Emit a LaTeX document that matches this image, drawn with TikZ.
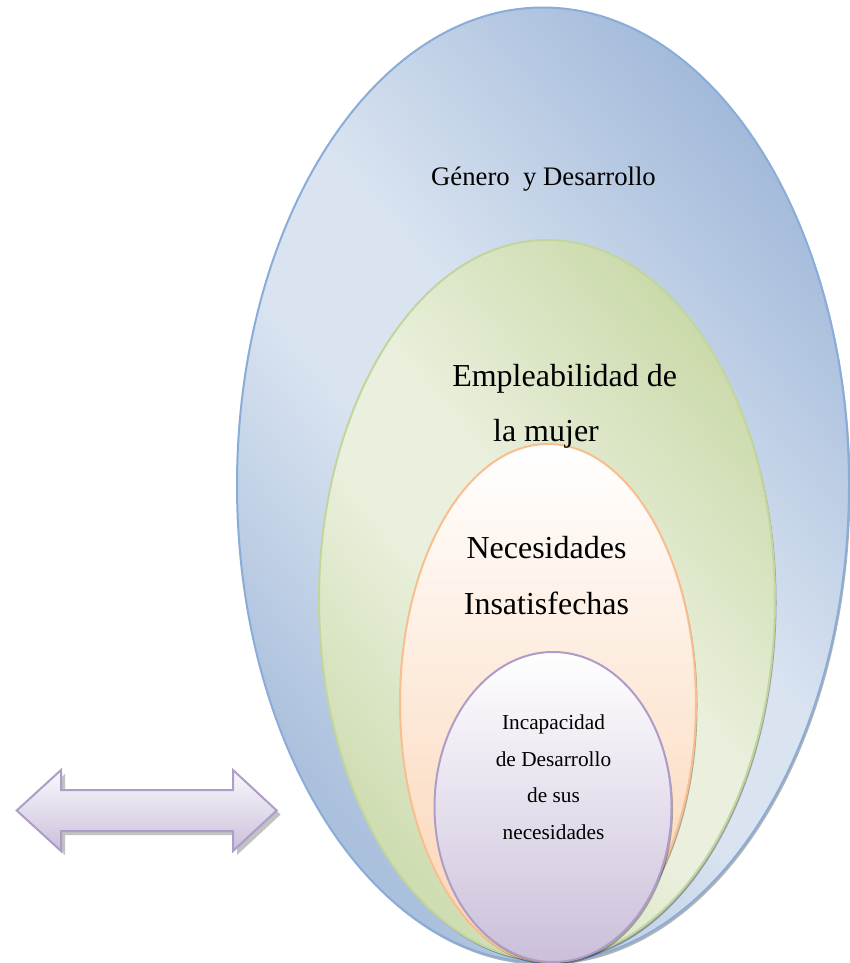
\documentclass[tikz,border=0pt]{standalone}
\usepackage{fontspec}
\setmainfont{Liberation Serif}
\usetikzlibrary{shapes.geometric,shadows}

% palette
\definecolor{bluedark}{HTML}{A3BADA}
\definecolor{bluemid}{HTML}{ABC0DD}
\definecolor{bluelight}{HTML}{DAE4F1}
\definecolor{blueline}{HTML}{8AACD8}
\definecolor{greendark}{HTML}{CBDAAB}
\definecolor{greenmid}{HTML}{CFDDB2}
\definecolor{greenlight}{HTML}{EAF0DD}
\definecolor{greenline}{HTML}{C2D69B}
\definecolor{orangebot}{HTML}{FBD3B2}
\definecolor{orangeline}{HTML}{F9BE8F}
\definecolor{purplebot}{HTML}{CBBFDA}
\definecolor{purpleline}{HTML}{AE9DC8}
\definecolor{arrowtop}{HTML}{FAF9FC}

% diagonal dark-light-dark fills for the two outer rings
\pgfdeclarehorizontalshading{blueshade}{100bp}{color(0bp)=(bluemid); color(26bp)=(bluemid); color(44bp)=(bluelight); color(53bp)=(bluelight); color(75bp)=(bluedark); color(100bp)=(bluedark)}
\pgfdeclarehorizontalshading{greenshade}{100bp}{color(0bp)=(greenmid); color(26bp)=(greenmid); color(44bp)=(greenlight); color(53bp)=(greenlight); color(75bp)=(greendark); color(100bp)=(greendark)}

\tikzset{
  ring/.style={ellipse, inner sep=0pt, line width=2pt,
    drop shadow={shadow xshift=1.5pt, shadow yshift=-2.5pt, opacity=0.3, fill=black}},
  bigtext/.style={anchor=base, font=\fontsize{32}{38}\selectfont},
  midtext/.style={anchor=base, font=\fontsize{26.7}{32}\selectfont},
  smalltext/.style={anchor=base, font=\fontsize{21.3}{26}\selectfont},
  arrowbox/.style={top color=arrowtop, bottom color=purplebot, draw=purpleline,
    line width=2pt, line join=miter,
    drop shadow={shadow xshift=4pt, shadow yshift=-4pt, fill=black!40, opacity=0.6}}
}

\begin{document}
\begin{tikzpicture}[x=1pt,y=-1pt]
\useasboundingbox (0,0) rectangle (849,963);

% nested rings
\node[ring, draw=blueline, shading=blueshade, shading angle=40,
      minimum width=612, minimum height=955] (genero) at (543,485) {};
\node[ring, draw=greenline, shading=greenshade, shading angle=40,
      minimum width=456, minimum height=720] (empleo) at (547,600) {};
\node[ring, draw=orangeline, top color=white, bottom color=orangebot,
      minimum width=296, minimum height=518] (necesidad) at (548,703) {};
\node[ring, draw=purpleline, top color=white, bottom color=purplebot,
      minimum width=237, minimum height=310] (incapacidad) at (553,807) {};

% labels
\node[midtext] (tgen) at (543.5,185) {Género\ \ y Desarrollo};
\node[bigtext] (temp1) at (564.7,386) {Empleabilidad de};
\node[bigtext] (temp2) at (546,441.7) {la mujer};
\node[bigtext] (tnec1) at (546.5,558) {Necesidades};
\node[bigtext] (tnec2) at (546.5,614) {Insatisfechas};
\node[smalltext] (tinc1) at (553.5,729) {Incapacidad};
\node[smalltext] (tinc2) at (553.5,766) {de Desarrollo};
\node[smalltext] (tinc3) at (553.5,802.7) {de sus};
\node[smalltext] (tinc4) at (553.5,839.5) {necesidades};

% double-headed block arrow
\draw[arrowbox] (16.7,810.5) -- (61,770) -- (61,790) -- (233,790) -- (233,770)
  -- (276.7,810.5) -- (233,851) -- (233,831) -- (61,831) -- (61,851) -- cycle;
\end{tikzpicture}
\end{document}
